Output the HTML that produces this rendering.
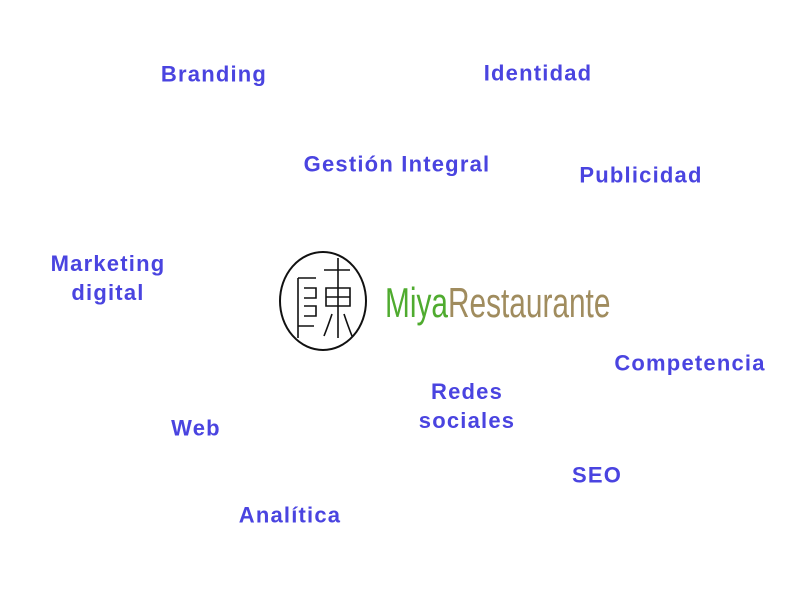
<!DOCTYPE html>
<html><head><meta charset="utf-8"><style>
body{margin:0;width:800px;height:600px;background:#fff;position:relative;overflow:hidden;font-family:"Liberation Sans",sans-serif}
.t{position:absolute;color:#4a44e0;font-size:22px;font-weight:bold;transform:translate(-50%,-50%);white-space:nowrap;text-align:center;line-height:29px;letter-spacing:1.2px}
.logo{position:absolute;left:385px;top:280px;font-size:42px;transform:scaleX(0.71);transform-origin:left top;white-space:nowrap;line-height:46px}
</style></head><body>
<div class="t" style="left:214px;top:74px">Branding</div>
<div class="t" style="left:538px;top:73px">Identidad</div>
<div class="t" style="left:397px;top:164px">Gestión Integral</div>
<div class="t" style="left:641px;top:175px">Publicidad</div>
<div class="t" style="left:108px;top:278px">Marketing<br>digital</div>
<div class="t" style="left:690px;top:363px">Competencia</div>
<div class="t" style="left:467px;top:406px">Redes<br>sociales</div>
<div class="t" style="left:196px;top:428px">Web</div>
<div class="t" style="left:597px;top:475px">SEO</div>
<div class="t" style="left:290px;top:515px">Analítica</div>
<svg style="position:absolute;left:276px;top:248px" width="96" height="106">
<ellipse cx="47" cy="53" rx="43" ry="49" fill="none" stroke="#111" stroke-width="2"/>
<g fill="none" stroke="#111" stroke-width="1.6">
<path d="M22 30 h18 M22 30 v60 M28 40 h12 v10 h-12 M28 58 h12 v10 h-12 M22 78 h16"/>
<path d="M62 10 v80 M48 22 h26 M50 40 h24 v18 h-24 z M50 49 h24 M56 66 q-4 12 -8 22 M68 66 q4 12 8 22"/>
</g></svg>
<div class="logo"><span style="color:#4fab2f">Miya</span><span style="color:#a08c5e">Restaurante</span></div>
</body></html>
